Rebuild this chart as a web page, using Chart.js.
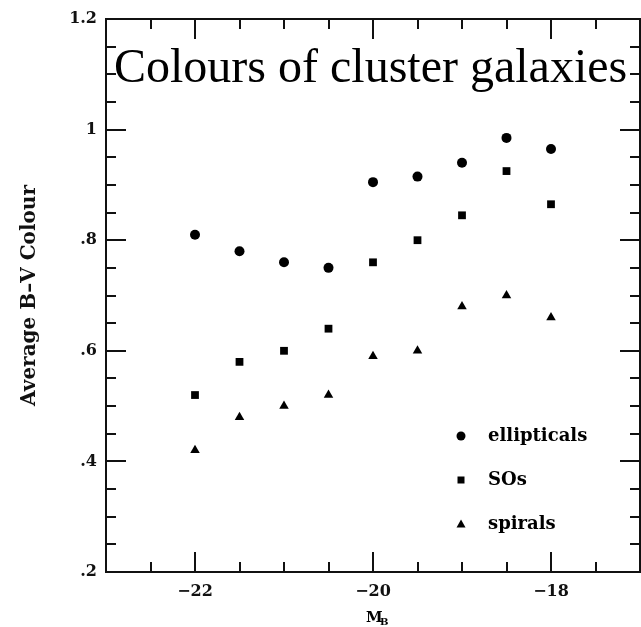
<!DOCTYPE html>
<html>
<head>
<meta charset="utf-8">
<script src="https://cdn.jsdelivr.net/npm/chart.js@4.4.1/dist/chart.umd.min.js"></script>
<style>
  html, body { margin: 0; padding: 0; background: #fff; }
  #wrap { width: 641px; height: 627px; position: relative; }
</style>
</head>
<body>
<div id="wrap"><canvas id="colourChart"></canvas></div>
<script>
const magnitudes = [-22, -21.5, -21, -20.5, -20, -19.5, -19, -18.5, -18];
const ellipticals = [0.81, 0.78, 0.76, 0.75, 0.905, 0.915, 0.94, 0.985, 0.965];
const sos = [0.52, 0.58, 0.60, 0.64, 0.76, 0.80, 0.845, 0.925, 0.865];
const spirals = [0.42, 0.48, 0.50, 0.52, 0.59, 0.60, 0.68, 0.70, 0.66];
const seriesLabels = ["ellipticals", "SOs", "spirals"];
const xTicks = [-22, -20, -18];
const yTicks = [0.2, 0.4, 0.6, 0.8, 1.0, 1.2];

const labelFont = "'DejaVu Serif', serif";

function toPoints(values) {
  return values.map((v, i) => ({ x: magnitudes[i], y: v }));
}

// box round the plot with inward ticks on all four sides
const frameTicks = {
  id: "frameTicks",
  afterDraw(chart) {
    const { ctx, chartArea: a, scales } = chart;
    const x = scales.x, y = scales.y;
    ctx.save();
    ctx.strokeStyle = "#111";
    ctx.lineWidth = 2;
    ctx.strokeRect(a.left, a.top, a.right - a.left, a.bottom - a.top);
    ctx.beginPath();
    for (let i = 0; i <= 12; i++) {
      const v = -23 + i * 0.5;
      const px = Math.round(x.getPixelForValue(v));
      const len = xTicks.includes(v) ? 20 : 10;
      ctx.moveTo(px, a.bottom); ctx.lineTo(px, a.bottom - len);
      ctx.moveTo(px, a.top); ctx.lineTo(px, a.top + len);
    }
    for (let i = 0; i <= 20; i++) {
      const py = Math.round(y.getPixelForValue(0.2 + i * 0.05));
      const len = i % 4 === 0 ? 20 : 10;
      ctx.moveTo(a.left, py); ctx.lineTo(a.left + len, py);
      ctx.moveTo(a.right, py); ctx.lineTo(a.right - len, py);
    }
    ctx.stroke();

    // big title over the top of the plot
    ctx.fillStyle = "#000";
    ctx.font = "48px 'Liberation Serif', serif";
    ctx.textAlign = "left";
    ctx.textBaseline = "alphabetic";
    ctx.fillText("Colours of cluster galaxies", 114, 82);

    // x axis title M with subscript B
    ctx.font = "bold 15px " + labelFont;
    ctx.fillText("M", 366, 622);
    ctx.font = "bold 10px " + labelFont;
    ctx.fillText("B", 380, 625);

    // legend
    const lx = 461, tx = 488;
    const rows = [436, 480, 524];
    ctx.font = "bold 18px " + labelFont;
    ctx.textBaseline = "middle";
    chart.data.datasets.forEach((ds, i) => {
      const cy = rows[i];
      ctx.beginPath();
      if (ds.pointStyle === "circle") {
        ctx.arc(lx, cy, 4.5, 0, Math.PI * 2);
      } else if (ds.pointStyle === "rect") {
        ctx.rect(lx - 3.5, cy - 3.5, 7, 7);
      } else {
        ctx.moveTo(lx, cy - 4.5);
        ctx.lineTo(lx + 4.5, cy + 3.5);
        ctx.lineTo(lx - 4.5, cy + 3.5);
        ctx.closePath();
      }
      ctx.fill();
      ctx.fillText(ds.label, tx, cy);
    });
    ctx.restore();
  }
};

const ctx = document.getElementById("colourChart").getContext("2d");
const colourChart = new Chart(ctx, {
  type: "scatter",
  data: {
    datasets: [
      {
        label: seriesLabels[0],
        data: toPoints(ellipticals),
        pointStyle: "circle",
        pointRadius: 5,
        backgroundColor: "#000",
        borderColor: "#000",
        borderWidth: 0,
      },
      {
        label: seriesLabels[1],
        data: toPoints(sos),
        pointStyle: "rect",
        pointRadius: 5.5,
        backgroundColor: "#000",
        borderColor: "#000",
        borderWidth: 0,
      },
      {
        label: seriesLabels[2],
        data: toPoints(spirals),
        pointStyle: "triangle",
        pointRadius: 5.5,
        backgroundColor: "#000",
        borderColor: "#000",
        borderWidth: 0,
      },
    ],
  },
  options: {
    responsive: true,
    maintainAspectRatio: false,
    animation: false,
    layout: { autoPadding: false, padding: { top: 19, right: 1, left: 0, bottom: 0 } },
    scales: {
      x: {
        type: "linear",
        min: -23,
        max: -17,
        grid: { display: false, drawTicks: false },
        border: { display: false },
        afterBuildTicks: (s) => { s.ticks = xTicks.map((v) => ({ value: v })); },
        afterFit: (s) => { s.height = 55; },
        ticks: {
          color: "#111",
          padding: 10,
          font: { family: labelFont, size: 16, weight: "bold" },
          callback: (v) => "\u2212" + Math.abs(v),
        },
      },
      y: {
        type: "linear",
        min: 0.2,
        max: 1.2,
        grid: { display: false, drawTicks: false },
        border: { display: false },
        afterBuildTicks: (s) => { s.ticks = yTicks.map((v) => ({ value: v })); },
        afterFit: (s) => { s.width = 106; },
        title: {
          display: true,
          text: "Average B\u2013V Colour",
          color: "#111",
          padding: { top: 18, bottom: 0 },
          font: { family: labelFont, size: 20, weight: "bold" },
        },
        ticks: {
          color: "#111",
          padding: 9,
          font: { family: labelFont, size: 16, weight: "bold" },
          callback: (v) => String(+v.toFixed(1)).replace(/^0\./, "."),
        },
      },
    },
    plugins: {
      legend: { display: false },
      tooltip: { enabled: false },
    },
  },
  plugins: [frameTicks],
});
</script>
</body>
</html>
